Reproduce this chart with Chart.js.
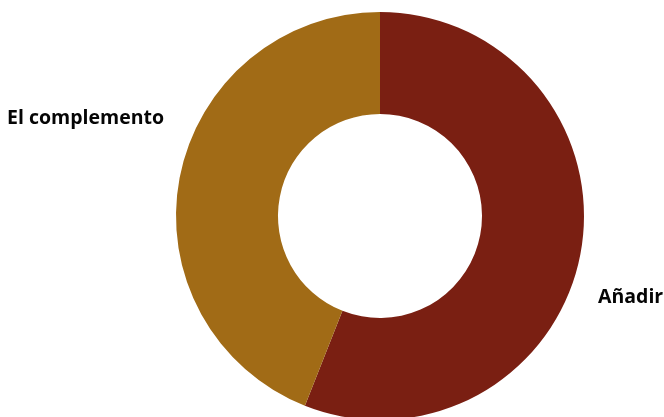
<!DOCTYPE html>
<html>
<head>
    <meta charset="utf-8">
    <title>Añadir vs El complemento</title>
    <style>
        body {
            margin: 0;
            background: #ffffff;
            overflow: hidden;
        }
        .chart-box {
            width: 664px;
            height: 420px;
        }
    </style>
</head>
<body>
    <div class="chart-box">
        <canvas id="shareChart"></canvas>
    </div>

    <script src="https://cdn.jsdelivr.net/npm/chart.js"></script>
    <script>
        const categories = ['Añadir', 'El complemento'];
        const shares = [56, 44];
        const sliceColors = ['#7a1f12', '#a16b16'];

        // labels sit outside the ring, to the side of each slice
        const outsideLabels = {
            id: 'outsideLabels',
            afterDraw(chart) {
                const ctx = chart.ctx;
                const arcs = chart.getDatasetMeta(0).data;
                ctx.save();
                ctx.font = 'bold 19.5px "Open Sans"';
                ctx.fillStyle = '#050505';
                ctx.textBaseline = 'middle';
                arcs.forEach((arc, i) => {
                    const mid = (arc.startAngle + arc.endAngle) / 2;
                    const right = Math.cos(mid) >= 0;
                    const x = arc.x + (right ? arc.outerRadius + 14 : -(arc.outerRadius + 12));
                    const y = arc.y + (right ? 0.40 : -0.48) * arc.outerRadius;
                    ctx.textAlign = right ? 'left' : 'right';
                    ctx.fillText(chart.data.labels[i], x, y);
                });
                ctx.restore();
            }
        };

        new Chart(document.getElementById('shareChart'), {
            type: 'doughnut',
            data: {
                labels: categories,
                datasets: [{
                    data: shares,
                    backgroundColor: sliceColors,
                    borderWidth: 0,
                    hoverOffset: 0
                }]
            },
            options: {
                responsive: true,
                maintainAspectRatio: false,
                animation: false,
                cutout: '50%',
                layout: {
                    padding: { top: 12, bottom: 0, left: 176, right: 80 }
                },
                plugins: {
                    legend: { display: false },
                    tooltip: { enabled: false }
                }
            },
            plugins: [outsideLabels]
        });
    </script>
</body>
</html>
